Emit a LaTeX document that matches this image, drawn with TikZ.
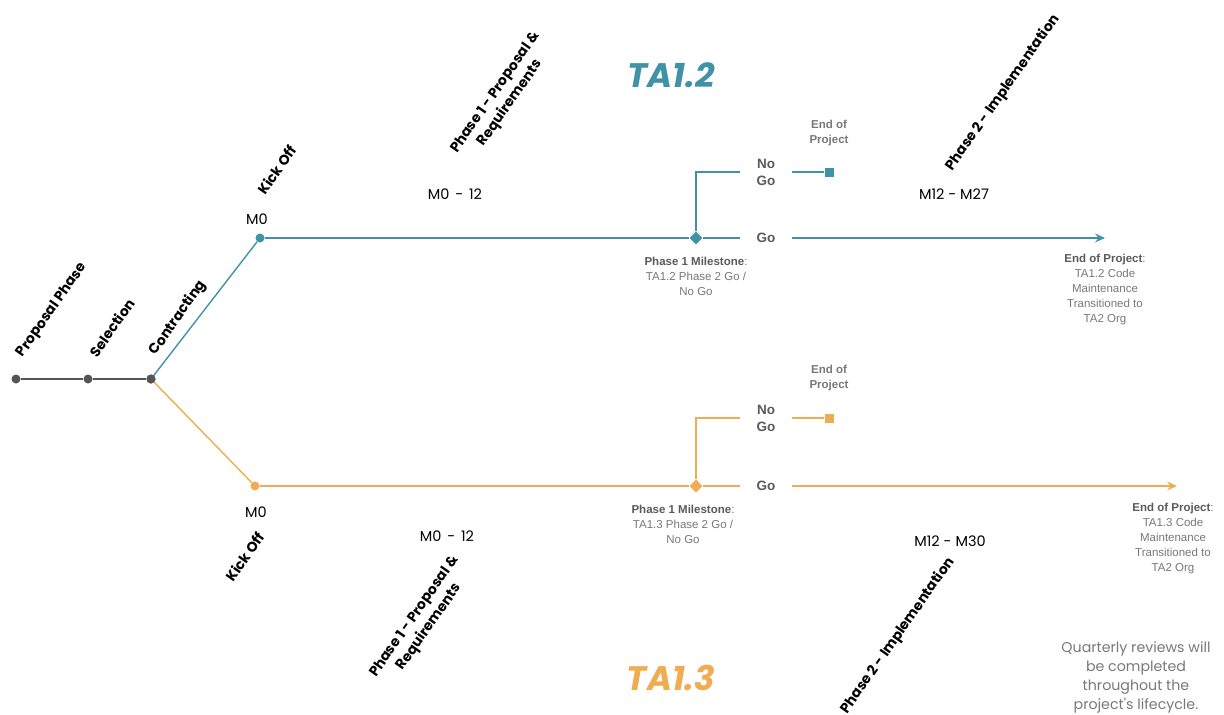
\documentclass[tikz,border=0pt]{standalone}
\usepackage{fontspec}
\setmainfont{Liberation Sans}
\newfontfamily\pop{Poppins}
\usetikzlibrary{arrows.meta,shapes.geometric}
\definecolor{teal}{RGB}{64,146,166}
\definecolor{orng}{RGB}{240,172,82}
\definecolor{dgry}{RGB}{85,85,85}
\definecolor{tgry}{RGB}{90,90,90}
\definecolor{ngry}{RGB}{120,120,120}
\begin{document}
\begin{tikzpicture}[x=1pt,y=-1pt,
  dot/.style={circle,inner sep=0pt,minimum size=9pt},
  msd/.style={diamond,inner sep=0pt,minimum size=13pt},
  sq/.style={rectangle,inner sep=0pt,minimum size=9pt},
  rl/.style={font=\pop\bfseries\fontsize{14}{18}\selectfont, rotate=55, align=center, inner sep=0pt},
  ml/.style={font=\pop\fontsize{14.5}{16}\selectfont, inner sep=0pt},
  gl/.style={font=\bfseries\fontsize{13.5}{17}\selectfont, text=tgry, align=center, inner xsep=16pt, inner ysep=0pt},
  note/.style={font=\fontsize{11.5}{15}\selectfont, text=ngry, align=center, inner sep=0pt},
  eop/.style={font=\bfseries\fontsize{11.5}{14.5}\selectfont, text=ngry, align=center, inner sep=0pt},
  ln/.style={line width=1.4pt},
  arr/.style={line width=1.4pt, -{Stealth[length=10pt,width=9pt,inset=3.5pt]}}
]
\useasboundingbox (0,0) rectangle (1224,715);

% ---------- common start ----------
\node[dot, fill=dgry] (pp) at (16,379) {};
\node[dot, fill=dgry] (sel) at (88,379) {};
\node[dot, fill=dgry] (con) at (151,379) {};
\draw[ln, dgry] (pp) -- (sel) -- (con);
\node[rl] (lpp) at (52,310) {Proposal Phase};
\node[rl] (lsel) at (112,328) {Selection};
\node[rl] (lcon) at (178,318) {Contracting};

% ---------- TA1.2 ----------
\node[dot, fill=teal] (k1) at (260,238) {};
\node[msd, fill=teal] (d1) at (696,238) {};
\node[gl] (go1) at (766,238) {Go};
\node[gl] (ng1) at (766,172) {No\\Go};
\node[sq, fill=teal] (s1) at (829,172) {};
\coordinate (e1) at (1105,238);
\draw[ln, teal] (con.center) -- (k1);
\draw[ln, teal] (k1) -- (d1) -- (go1);
\draw[ln, teal] (d1) |- (ng1.west);
\draw[ln, teal] (ng1.east) -- (s1);
\draw[arr, teal] (go1) -- (e1);

\node[eop] (eop1) at (829,133) {End of\\Project};
\node[ml] (m01) at (257,219) {M0};
\node[rl] (ko1) at (277,170) {Kick Off};
\node[ml] (mr1) at (455,194) {M0\hspace{0.4em}-\hspace{0.4em}12};
\node[rl] (ph11) at (503,98) {Phase 1 - Proposal \&\\Requirements};
\node[ml] (mr2) at (954,194) {M12 - M27};
\node[rl] (ph21) at (1003,93) {Phase 2 - Implementation};
\node[font=\pop\bfseries\itshape\fontsize{34}{36}\selectfont, text=teal, inner sep=0pt] (ta12) at (671,75) {TA1.2};
\node[note] (mst1) at (696,276) {\textbf{\color{tgry}Phase 1 Milestone}:\\TA1.2 Phase 2 Go /\\No Go};
\node[note] (end1) at (1105,290) {\textbf{\color{tgry}End of Project}:\\TA1.2 Code\\Maintenance\\Transitioned to\\TA2 Org};

% ---------- TA1.3 ----------
\node[dot, fill=orng] (k2) at (255,486) {};
\node[msd, fill=orng] (d2) at (696,486) {};
\node[gl] (go2) at (766,486) {Go};
\node[gl] (ng2) at (766,418) {No\\Go};
\node[sq, fill=orng] (s2) at (829,418) {};
\coordinate (e2) at (1177,486);
\draw[ln, orng] (con.center) -- (k2);
\draw[ln, orng] (k2) -- (d2) -- (go2);
\draw[ln, orng] (d2) |- (ng2.west);
\draw[ln, orng] (ng2.east) -- (s2);
\draw[arr, orng] (go2) -- (e2);
\node[dot, fill=dgry] at (con) {};

\node[eop] (eop2) at (829,378) {End of\\Project};
\node[ml] (m02) at (256,512) {M0};
\node[rl] (ko2) at (245,557) {Kick Off};
\node[ml] (mr3) at (447,536) {M0\hspace{0.4em}-\hspace{0.4em}12};
\node[rl] (ph12) at (422,622) {Phase 1 - Proposal \&\\Requirements};
\node[ml] (mr4) at (950,541) {M12 - M30};
\node[rl] (ph22) at (898,636) {Phase 2 - Implementation};
\node[font=\pop\bfseries\itshape\fontsize{34}{36}\selectfont, text=orng, inner sep=0pt] (ta13) at (671,678) {TA1.3};
\node[note] (mst2) at (683,524) {\textbf{\color{tgry}Phase 1 Milestone}:\\TA1.3 Phase 2 Go /\\No Go};
\node[note] (end2) at (1173,539) {\textbf{\color{tgry}End of Project}:\\TA1.3 Code\\Maintenance\\Transitioned to\\TA2 Org};

\node[font=\pop\fontsize{14.2}{19}\selectfont, text=ngry, align=center, inner sep=0pt] (qr) at (1136,677) {Quarterly reviews will\\be completed\\throughout the\\project's lifecycle.};
\end{tikzpicture}
\end{document}
